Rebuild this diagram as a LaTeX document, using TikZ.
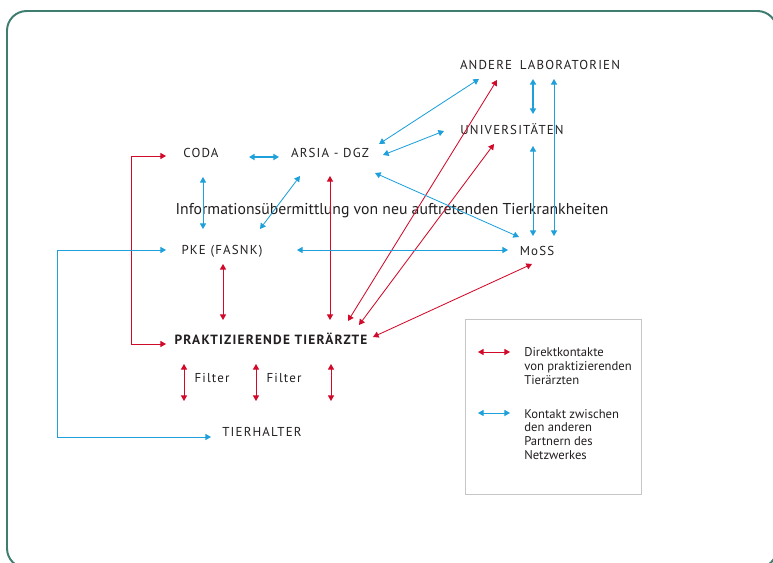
\documentclass[tikz,border=0pt]{standalone}
\usepackage{fontspec}
\setmainfont{PT Sans}
\newfontfamily\trackfont[LetterSpace=9]{PT Sans}
\usepackage{tikz}
\usetikzlibrary{arrows.meta, calc, positioning}
\definecolor{netred}{HTML}{D20A2A}
\definecolor{netblue}{HTML}{1EA0DB}
\definecolor{netgreen}{HTML}{3F7D71}
\definecolor{nettext}{HTML}{231F20}
\tikzset{
  redarr/.style={draw=netred, line width=0.6pt, {Triangle[length=4pt,width=4.4pt]}-{Triangle[length=4pt,width=4.4pt]}},
  bluearr/.style={draw=netblue, line width=0.6pt, {Triangle[length=4pt,width=4.4pt]}-{Triangle[length=4pt,width=4.4pt]}},
  partner/.style={inner sep=0pt, text=nettext, font=\trackfont\fontsize{9.2}{10}\selectfont},
  legendtext/.style={inner sep=0pt, align=left, text=nettext, font=\fontsize{9}{9.9}\selectfont}
}
\begin{document}
\begin{tikzpicture}[x=0.025cm, y=-0.025cm]
    \useasboundingbox (0,0) rectangle (773,563);

    % Frame
    \draw[netgreen, line width=1.4pt, rounded corners=14pt] (7,11) rectangle (777,568);

    % Partners
    \node[partner] (andere) at (540,65) {ANDERE\hspace{0.6em}LABORATORIEN};
    \node[partner] (uni) at (512,129) {UNIVERSITÄTEN};
    \node[partner] (coda) at (201,153) {CODA};
    \node[partner] (arsia) at (330,153) {ARSIA - DGZ};
    \node[inner sep=0pt, text=nettext, font=\fontsize{11.2}{12}\selectfont] (info) at (392,211) {Informationsübermittlung von neu auftretenden Tierkrankheiten};
    \node[partner] (pke) at (222,251) {PKE (FASNK)};
    \node[partner] (moss) at (537,251) {MoSS};
    \node[partner, font=\trackfont\bfseries\fontsize{9.5}{10}\selectfont] (prakt) at (271,339) {PRAKTIZIERENDE TIERÄRZTE};
    \node[partner] (filterA) at (212,378) {Filter};
    \node[partner] (filterB) at (284,378) {Filter};
    \node[partner] (halter) at (262,432) {TIERHALTER};

    % Direct contacts of the vets
    \draw[redarr] ($(coda)+(-35,3)$) -- ++(-35,0) |- ($(prakt)+(-105,5)$);
    \draw[redarr] ($(pke)+(1,13)$) -- ($(prakt)+(-48,-19)$);
    \draw[redarr] ($(arsia)+(0,23)$) -- ($(prakt)+(59,-19)$);
    \draw[redarr] ($(andere)+(-43,15)$) -- ($(prakt)+(77,-18)$);
    \draw[redarr] ($(uni)+(-18,15)$) -- ($(prakt)+(88,-14)$);
    \draw[redarr] ($(moss)+(-5,13)$) -- ($(prakt)+(102,-2)$);
    \draw[redarr] ($(filterA)+(-28,-14)$) -- ($(filterA)+(-28,23)$);
    \draw[redarr] ($(filterB)+(-28,-14)$) -- ($(filterB)+(-28,23)$);
    \draw[redarr] ($(filterB)+(47,-14)$) -- ($(filterB)+(47,23)$);

    % Contacts between the other partners
    \draw[bluearr, line width=1pt] ($(coda)+(48,4)$) -- ($(arsia)+(-51,4)$);
    \draw[bluearr] ($(coda)+(2,24)$) -- ($(pke)+(-19,-22)$);
    \draw[bluearr] ($(arsia)+(-30,23)$) -- ($(pke)+(38,-22)$);
    \draw[bluearr] ($(arsia)+(49,-9)$) -- ($(andere)+(-61,14)$);
    \draw[bluearr] ($(arsia)+(53,2)$) -- ($(uni)+(-68,2)$);
    \draw[bluearr] ($(arsia)+(45,20)$) -- ($(moss)+(-18,-14)$);
    \draw[bluearr, line width=1pt] ($(andere)+(-7,14)$) -- ($(uni)+(21,-15)$);
    \draw[bluearr] ($(andere)+(14,14)$) -- ($(moss)+(17,-15)$);
    \draw[bluearr] ($(uni)+(21,17)$) -- ($(moss)+(-4,-15)$);
    \draw[bluearr] ($(pke)+(75,-1)$) -- ($(moss)+(-29,-1)$);
    \draw[bluearr] ($(pke)+(-56,-1)$) -- ++(-109,0) |- ($(halter)+(-51,5)$);

    % Legend
    \draw[gray!45, line width=0.6pt] (465,319) rectangle (641,494);
    \node[legendtext, anchor=west] (legred) at (524,366) {Direktkontakte\\von praktizierenden\\Tierärzten};
    \node[legendtext, anchor=west] (legblue) at (524,434.5) {Kontakt zwischen\\den anderen\\Partnern des\\Netzwerkes};
    \draw[redarr] ($(legred.west)+(-46,-14)$) -- ($(legred.west)+(-14,-14)$);
    \draw[bluearr] ($(legblue.west)+(-46,-21.5)$) -- ($(legblue.west)+(-14,-21.5)$);
\end{tikzpicture}
\end{document}
